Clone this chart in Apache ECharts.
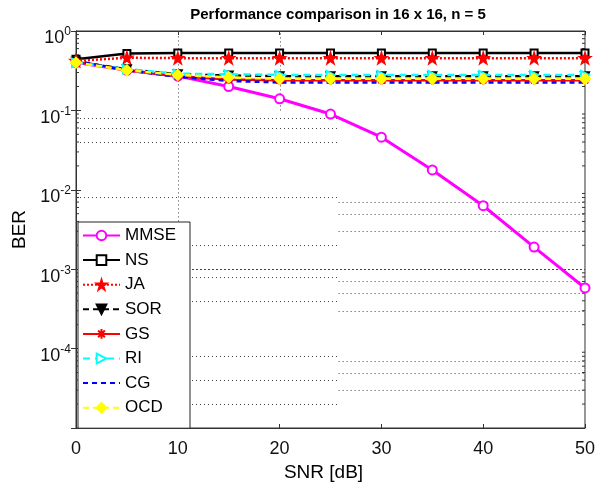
<!DOCTYPE html>
<html>
<head>
<meta charset="utf-8">
<script src="https://cdn.jsdelivr.net/npm/echarts@6/dist/echarts.min.js"></script>
<style>
  html, body { margin: 0; padding: 0; background: #fff; }
  #chart { width: 598px; height: 489px; }
</style>
</head>
<body>
<div id="chart"></div>
<script>
// SNR points (dB)
const snr = [0, 5, 10, 15, 20, 25, 30, 35, 40, 45, 50];

// BER per detector
const mmse = [0.40, 0.32, 0.27, 0.20, 0.14, 0.090, 0.046, 0.0178, 0.0063, 0.0019, 0.00058];
const ns   = [0.44, 0.52, 0.53, 0.53, 0.53, 0.53, 0.53, 0.53, 0.53, 0.53, 0.53];
const ja   = [0.42, 0.46, 0.455, 0.455, 0.455, 0.455, 0.455, 0.455, 0.455, 0.455, 0.455];
const sor  = [0.41, 0.33, 0.285, 0.275, 0.27, 0.27, 0.27, 0.27, 0.27, 0.27, 0.27];
const gs   = [0.41, 0.32, 0.27, 0.245, 0.24, 0.24, 0.24, 0.24, 0.24, 0.24, 0.24];
const ri   = [0.40, 0.33, 0.29, 0.285, 0.28, 0.28, 0.28, 0.28, 0.28, 0.28, 0.28];
const cg   = [0.42, 0.32, 0.265, 0.235, 0.225, 0.225, 0.225, 0.225, 0.225, 0.225, 0.225];
const ocd  = [0.40, 0.32, 0.28, 0.26, 0.25, 0.25, 0.25, 0.25, 0.25, 0.25, 0.25];

// dotted grid pieces: [BER level, SNR from, SNR to]
const hGrid = [
  [8e-2, 0, 25.8], [6e-2, 0, 25.8], [4e-2, 0, 25.8],
  [8e-3, 0, 25.8], [2e-3, 0, 25.8],
  [7e-3, 25.8, 50], [5e-3, 25.8, 50], [3e-3, 25.8, 50],
  [8e-4, 0, 25.8], [4e-4, 0, 25.8],
  [7e-4, 25.8, 50], [5e-4, 25.8, 50], [3e-4, 25.8, 50],
  [8e-5, 0, 25.8], [4e-5, 0, 25.8], [2e-5, 0, 25.8],
  [7e-5, 25.8, 50], [5e-5, 25.8, 50], [3e-5, 25.8, 50]
];
// dashed decade lines spanning the plot
const hMajor = [1e-3];
// vertical dotted pieces: [SNR, BER from, BER to]
const vGrid = [[10, 4e-3, 1], [20, 0.1, 1]];

const pts = arr => arr.map((v, i) => [snr[i], v]);

const FONT = 'Liberation Sans, Arial, sans-serif';
const AXIS = '#333';
const GRID = '#444';

const starPath = 'path://M50,0 L61,35 L98,35 L68,57 L79,91 L50,70 L21,91 L32,57 L2,35 L39,35 Z';
const asteriskPath = 'path://M50,0 L50,100 M0,50 L100,50 M15,15 L85,85 M85,15 L15,85';
const rightTri = 'path://M0,0 L100,50 L0,100 Z';
const downTri = 'path://M0,0 L100,0 L50,100 Z';

function lineSeries(name, data, color, type, symbol, size, fillColor, extra) {
  return Object.assign({
    name: name,
    type: 'line',
    data: pts(data),
    symbol: symbol,
    symbolSize: size,
    showAllSymbol: true,
    lineStyle: { color: color, width: 2.5, type: type },
    itemStyle: { color: fillColor, borderColor: color, borderWidth: 2 },
    emphasis: { disabled: true },
    animation: false,
    z: 3
  }, extra || {});
}

// minor ticks on left/right edges and the dotted grid pieces
const decor = {
  type: 'custom',
  silent: true,
  animation: false,
  data: [0],
  z: 1,
  renderItem: function (params, api) {
    const children = [];
    const cs = params.coordSys;
    for (let d = -5; d < 0; d++) {
      for (let m = 2; m <= 9; m++) {
        const y = api.coord([0, m * Math.pow(10, d)])[1];
        children.push({ type: 'line', shape: { x1: cs.x, y1: y, x2: cs.x + 3, y2: y }, style: { stroke: AXIS, lineWidth: 1 } });
        children.push({ type: 'line', shape: { x1: cs.x + cs.width, y1: y, x2: cs.x + cs.width - 3, y2: y }, style: { stroke: AXIS, lineWidth: 1 } });
      }
    }
    hGrid.forEach(function (g) {
      const a = api.coord([g[1], g[0]]), b = api.coord([g[2], g[0]]);
      const y = Math.round(a[1]) + 0.5;
      children.push({ type: 'line', shape: { x1: a[0], y1: y, x2: b[0], y2: y }, style: { stroke: GRID, lineWidth: 1, lineDash: [1, 3] } });
    });
    hMajor.forEach(function (v) {
      const a = api.coord([0, v]), b = api.coord([50, v]);
      const y = Math.round(a[1]) + 0.5;
      children.push({ type: 'line', shape: { x1: a[0], y1: y, x2: b[0], y2: y }, style: { stroke: GRID, lineWidth: 1, lineDash: [2, 2] } });
    });
    vGrid.forEach(function (g) {
      const a = api.coord([g[0], g[1]]), b = api.coord([g[0], g[2]]);
      const x = Math.round(a[0]) + 0.5;
      children.push({ type: 'line', shape: { x1: x, y1: a[1], x2: x, y2: b[1] }, style: { stroke: GRID, lineWidth: 1, lineDash: [1, 3] } });
    });
    return { type: 'group', children: children };
  }
};

const chart = echarts.init(document.getElementById('chart'), null, { renderer: 'canvas' });

const supLabel = function (v) {
  const e = Math.round(Math.log10(v));
  return '{b|10}{s|' + e + '}';
};

chart.setOption({
  backgroundColor: '#fff',
  animation: false,
  title: {
    text: 'Performance comparison in 16 x 16, n = 5',
    left: 333, top: 2, textAlign: 'center',
    textStyle: { fontFamily: FONT, fontSize: 15, fontWeight: 'bold', color: '#000' }
  },
  grid: { left: 76, right: 13, top: 31, bottom: 61, show: true, borderColor: AXIS, borderWidth: 1 },
  legend: {
    orient: 'vertical',
    left: 78, top: 222,
    itemWidth: 37, itemHeight: 12,
    itemGap: 7.6,
    padding: [5, 14, 12, 4],
    backgroundColor: '#fff',
    borderColor: '#222', borderWidth: 1,
    textStyle: { fontFamily: FONT, fontSize: 17, color: '#000', padding: [0, 0, 0, 0] },
    data: ['MMSE', 'NS', 'JA', 'SOR', 'GS', 'RI', 'CG', 'OCD']
  },
  xAxis: [{
    type: 'value', min: 0, max: 50, interval: 10,
    name: 'SNR [dB]', nameLocation: 'middle', nameGap: 31,
    nameTextStyle: { fontFamily: FONT, fontSize: 19, color: '#000', padding: [0, 14, 0, 0] },
    axisLine: { show: true, lineStyle: { color: AXIS } },
    axisTick: { inside: true, length: 4, lineStyle: { color: AXIS } },
    axisLabel: { fontFamily: FONT, fontSize: 18, color: '#111', margin: 12 },
    splitLine: { show: false }
  }, {
    type: 'value', min: 0, max: 50, interval: 10, position: 'top',
    axisLine: { show: true, lineStyle: { color: AXIS } },
    axisTick: { inside: true, length: 4, lineStyle: { color: AXIS } },
    axisLabel: { show: false }, splitLine: { show: false }
  }],
  yAxis: [{
    type: 'log', logBase: 10, min: 1e-5, max: 1,
    name: 'BER', nameLocation: 'middle', nameGap: 46, nameRotate: 90,
    nameTextStyle: { fontFamily: FONT, fontSize: 19, color: '#000' },
    axisLine: { show: true, lineStyle: { color: AXIS } },
    axisTick: { inside: true, length: 5, lineStyle: { color: AXIS } },
    axisLabel: {
      showMinLabel: false, margin: 5,
      padding: [15, 0, 0, 0],
      formatter: supLabel,
      rich: {
        b: { fontFamily: FONT, fontSize: 18, color: '#111' },
        s: { fontFamily: FONT, fontSize: 12, color: '#111', verticalAlign: 'top', padding: [0, 0, 13, 0] }
      }
    },
    splitLine: { show: false }
  }, {
    type: 'log', logBase: 10, min: 1e-5, max: 1, position: 'right',
    axisLine: { show: true, lineStyle: { color: AXIS } },
    axisTick: { inside: true, length: 5, lineStyle: { color: AXIS } },
    axisLabel: { show: false }, splitLine: { show: false }
  }],
  series: [
    decor,
    lineSeries('MMSE', mmse, '#ff00ff', 'solid', 'circle', 9, '#fff', { lineStyle: { color: '#ff00ff', width: 3, type: 'solid' } }),
    lineSeries('NS', ns, '#000', 'solid', 'rect', 7, '#fff'),
    lineSeries('JA', ja, '#ff0000', [2, 2], starPath, 10, '#ff0000'),
    lineSeries('SOR', sor, '#000', [6, 4], downTri, 8, '#000'),
    lineSeries('GS', gs, '#ff0000', 'solid', asteriskPath, 9, '#ff0000'),
    lineSeries('RI', ri, '#00ffff', [7, 5], rightTri, 8, '#fff'),
    lineSeries('CG', cg, '#0000ff', [5, 4], 'circle', 1, 'rgba(0,0,0,0)', { showSymbol: false, itemStyle: { color: 'rgba(0,0,0,0)', borderColor: 'rgba(0,0,0,0)', borderWidth: 0 } }),
    lineSeries('OCD', ocd, '#ffff00', [6, 4], 'diamond', 10, '#ffff00')
  ]
});
</script>
</body>
</html>
